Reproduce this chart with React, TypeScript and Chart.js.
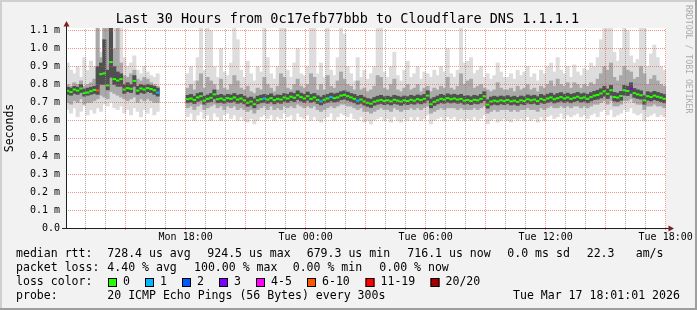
import { useEffect, useRef } from "react";
import { Chart, registerables } from "chart.js";

Chart.register(...registerables);

// ---- time axis (hours since Mon 00:00) ----
const START_HOUR = 12 + 1 / 60; // Mon 12:01
const END_HOUR = 42 + 1 / 60; // Tue 18:01
const SLOT_HOURS = 1 / 6; // 10-minute slots

const _ = null;

// median rtt per 10-minute slot (ms)
const medianRtt = [
  0.765, 0.758, 0.772, 0.766, 0.778, 0.752, 0.755, 0.763, 0.77, 0.767, 0.858, 0.862,
  0.795, 0.925, 0.83, 0.822, 0.83, 0.772, 0.78, 0.776, 0.82, 0.766, 0.778, 0.772,
  0.78, 0.775, 0.768, 0.755, _, _, _, _, _, _, _, _,
  0.718, 0.722, 0.714, 0.728, 0.735, 0.71, 0.72, 0.726, 0.745, 0.718, 0.722, 0.715,
  0.724, 0.72, 0.728, 0.716, 0.722, 0.712, 0.698, 0.705, 0.69, 0.712, 0.718, 0.722,
  0.716, 0.724, 0.713, 0.72, 0.716, 0.728, 0.722, 0.732, 0.726, 0.74, 0.73, 0.722,
  0.735, 0.72, 0.728, 0.714, 0.706, 0.715, 0.722, 0.73, 0.724, 0.728, 0.738, 0.742,
  0.735, 0.728, 0.72, 0.71, 0.716, 0.705, 0.698, 0.693, 0.704, 0.71, 0.714, 0.708,
  0.712, 0.706, 0.715, 0.71, 0.705, 0.712, 0.708, 0.715, 0.71, 0.718, 0.713, 0.72,
  0.738, 0.69, 0.703, 0.712, 0.72, 0.716, 0.724, 0.718, 0.722, 0.716, 0.72, 0.71,
  0.714, 0.708, 0.715, 0.712, 0.72, 0.735, 0.688, 0.705, 0.71, 0.706, 0.712, 0.708,
  0.714, 0.706, 0.71, 0.703, 0.712, 0.708, 0.718, 0.712, 0.716, 0.708, 0.72, 0.714,
  0.722, 0.728, 0.718, 0.724, 0.73, 0.722, 0.728, 0.72, 0.726, 0.732, 0.724, 0.728,
  0.72, 0.73, 0.738, 0.742, 0.75, 0.762, 0.748, 0.768, 0.73, 0.727, 0.736, 0.768,
  0.764, 0.778, 0.752, 0.745, 0.74, 0.712, 0.735, 0.73, 0.738, 0.732, 0.727, 0.72,
];

// smoke: outermost ping range (min / max)
const smokeMax = [
  0.92, 0.88, 0.86, 0.9, 0.84, 0.95, 0.88, 0.93, 0.9, 1.2, 0.98, 1.2,
  1.2, 1.2, 1.2, 1.2, 1.2, 0.95, 0.9, 0.92, 0.96, 0.88, 0.86, 0.9,
  0.87, 0.85, 0.84, 0.86, _, _, _, _, _, _, _, _,
  0.86, 0.9, 0.82, 0.95, 1.2, 0.88, 1.12, 1.1, 0.9, 0.84, 1.0, 0.87,
  0.85, 0.92, 1.2, 1.05, 0.88, 0.84, 0.93, 0.86, 0.82, 0.9, 0.87, 1.2,
  0.95, 0.86, 0.83, 0.9, 1.2, 1.15, 0.88, 0.84, 0.92, 1.0, 0.86, 0.85,
  0.9, 1.2, 1.12, 0.86, 0.92, 0.84, 1.15, 0.88, 0.85, 0.95, 1.2, 1.08,
  0.9, 0.86, 0.82, 0.95, 0.84, 0.88, 0.83, 0.86, 0.9, 1.2, 1.2, 0.87,
  0.84, 0.9, 0.98, 0.85, 0.82, 0.88, 0.93, 0.84, 0.86, 0.9, 0.83, 0.87,
  0.86, 0.84, 0.88, 0.85, 0.9, 0.87, 1.0, 0.86, 0.84, 0.88, 1.2, 0.92,
  0.93, 0.95, 0.86, 0.88, 0.9, 0.84, 0.86, 0.83, 0.85, 0.92, 0.87, 0.84,
  0.84, 0.86, 0.83, 0.88, 0.85, 0.87, 0.9, 0.84, 0.86, 0.82, 0.88, 0.86,
  0.9, 0.92, 0.87, 0.95, 0.88, 0.86, 0.9, 0.84, 0.91, 0.87, 0.85, 0.89,
  0.88, 0.92, 0.9, 0.95, 1.05, 1.2, 1.2, 1.2, 0.98, 0.93, 1.0, 1.2,
  1.1, 0.96, 0.92, 0.94, 1.2, 1.15, 0.9, 0.97, 1.02, 0.95, 0.9, 0.88,
];
const smokeMin = [
  0.66, 0.64, 0.67, 0.62, 0.65, 0.68, 0.63, 0.66, 0.64, 0.67, 0.65, 0.69,
  0.68, 0.7, 0.67, 0.66, 0.68, 0.64, 0.66, 0.63, 0.67, 0.65, 0.62, 0.66,
  0.64, 0.67, 0.63, 0.65, _, _, _, _, _, _, _, _,
  0.62, 0.64, 0.6, 0.63, 0.65, 0.61, 0.63, 0.6, 0.64, 0.62, 0.6, 0.63,
  0.64, 0.61, 0.63, 0.6, 0.62, 0.6, 0.59, 0.61, 0.58, 0.6, 0.62, 0.63,
  0.61, 0.63, 0.6, 0.62, 0.61, 0.64, 0.62, 0.63, 0.6, 0.64, 0.62, 0.61,
  0.63, 0.6, 0.62, 0.6, 0.59, 0.61, 0.62, 0.64, 0.6, 0.62, 0.64, 0.63,
  0.62, 0.64, 0.61, 0.6, 0.62, 0.59, 0.6, 0.58, 0.6, 0.61, 0.62, 0.6,
  0.61, 0.59, 0.62, 0.6, 0.59, 0.61, 0.6, 0.62, 0.6, 0.62, 0.6, 0.61,
  0.63, 0.58, 0.6, 0.61, 0.62, 0.6, 0.62, 0.61, 0.62, 0.6, 0.61, 0.6,
  0.61, 0.6, 0.62, 0.6, 0.61, 0.63, 0.58, 0.6, 0.61, 0.59, 0.6, 0.61,
  0.6, 0.59, 0.61, 0.6, 0.61, 0.6, 0.62, 0.6, 0.61, 0.59, 0.62, 0.6,
  0.62, 0.63, 0.61, 0.62, 0.64, 0.61, 0.63, 0.62, 0.63, 0.64, 0.62, 0.63,
  0.61, 0.63, 0.64, 0.62, 0.65, 0.66, 0.63, 0.66, 0.62, 0.63, 0.64, 0.66,
  0.65, 0.67, 0.64, 0.63, 0.64, 0.6, 0.62, 0.63, 0.64, 0.62, 0.63, 0.62,
];

// smoke: middle ping range
const midHi = [
  0.8, 0.79, 0.81, 0.8, 0.82, 0.79, 0.8, 0.81, 0.83, 1.2, 0.95, 1.2,
  1.2, 1.2, 1.0, 1.2, 0.92, 0.85, 0.84, 0.86, 0.88, 0.83, 0.82, 0.84,
  0.83, 0.81, 0.8, 0.79, _, _, _, _, _, _, _, _,
  0.78, 0.8, 0.77, 0.82, 0.86, 0.78, 0.84, 0.82, 0.8, 0.77, 0.83, 0.78,
  0.77, 0.8, 0.85, 0.82, 0.78, 0.77, 0.79, 0.76, 0.75, 0.78, 0.77, 0.84,
  0.8, 0.78, 0.76, 0.79, 0.86, 0.84, 0.78, 0.77, 0.8, 0.83, 0.79, 0.78,
  0.8, 0.86, 0.84, 0.77, 0.8, 0.77, 0.85, 0.79, 0.78, 0.82, 0.87, 0.83,
  0.8, 0.79, 0.77, 0.82, 0.77, 0.78, 0.76, 0.77, 0.79, 0.85, 0.84, 0.78,
  0.77, 0.8, 0.83, 0.77, 0.76, 0.78, 0.8, 0.77, 0.78, 0.8, 0.76, 0.78,
  0.79, 0.76, 0.78, 0.77, 0.79, 0.78, 0.84, 0.78, 0.77, 0.79, 0.86, 0.8,
  0.82, 0.83, 0.78, 0.79, 0.8, 0.78, 0.77, 0.76, 0.77, 0.81, 0.78, 0.77,
  0.77, 0.78, 0.76, 0.79, 0.77, 0.78, 0.8, 0.77, 0.78, 0.76, 0.79, 0.78,
  0.8, 0.82, 0.79, 0.83, 0.8, 0.79, 0.81, 0.78, 0.81, 0.8, 0.78, 0.8,
  0.79, 0.81, 0.8, 0.83, 0.86, 0.9, 0.88, 0.92, 0.84, 0.82, 0.85, 0.9,
  0.88, 0.87, 0.83, 0.84, 0.9, 0.86, 0.8, 0.83, 0.85, 0.82, 0.8, 0.79,
];
const midLo = [
  0.7, 0.69, 0.71, 0.7, 0.72, 0.69, 0.7, 0.7, 0.71, 0.72, 0.74, 0.73,
  0.72, 0.76, 0.75, 0.74, 0.73, 0.72, 0.71, 0.72, 0.73, 0.7, 0.72, 0.71,
  0.72, 0.71, 0.7, 0.7, _, _, _, _, _, _, _, _,
  0.67, 0.68, 0.66, 0.68, 0.69, 0.66, 0.67, 0.68, 0.69, 0.67, 0.68, 0.66,
  0.68, 0.67, 0.68, 0.66, 0.67, 0.66, 0.65, 0.66, 0.64, 0.66, 0.67, 0.68,
  0.66, 0.68, 0.66, 0.67, 0.66, 0.68, 0.67, 0.68, 0.67, 0.69, 0.68, 0.67,
  0.68, 0.67, 0.68, 0.66, 0.65, 0.66, 0.67, 0.68, 0.67, 0.68, 0.69, 0.69,
  0.68, 0.68, 0.67, 0.66, 0.67, 0.65, 0.65, 0.64, 0.65, 0.66, 0.67, 0.66,
  0.66, 0.65, 0.67, 0.66, 0.65, 0.66, 0.66, 0.67, 0.66, 0.67, 0.66, 0.67,
  0.68, 0.64, 0.65, 0.66, 0.67, 0.66, 0.67, 0.67, 0.67, 0.66, 0.67, 0.66,
  0.66, 0.66, 0.67, 0.66, 0.67, 0.68, 0.64, 0.65, 0.66, 0.65, 0.66, 0.66,
  0.66, 0.65, 0.66, 0.65, 0.66, 0.66, 0.67, 0.66, 0.66, 0.65, 0.67, 0.66,
  0.67, 0.68, 0.67, 0.67, 0.68, 0.67, 0.68, 0.67, 0.68, 0.68, 0.67, 0.68,
  0.67, 0.68, 0.69, 0.69, 0.7, 0.71, 0.69, 0.71, 0.68, 0.68, 0.69, 0.71,
  0.71, 0.72, 0.7, 0.69, 0.69, 0.66, 0.68, 0.68, 0.69, 0.68, 0.68, 0.67,
];

// smoke: innermost (dark) ping range around the median
const coreHi = [
  0.785, 0.78, 0.79, 0.785, 0.8, 0.775, 0.78, 0.785, 0.79, 0.9, 0.92, 1.05,
  0.88, 1.2, 0.9, 0.87, 0.86, 0.8, 0.81, 0.8, 0.85, 0.79, 0.8, 0.795,
  0.8, 0.795, 0.79, 0.78, _, _, _, _, _, _, _, _,
  0.74, 0.745, 0.735, 0.75, 0.755, 0.735, 0.742, 0.75, 0.77, 0.74, 0.745, 0.738,
  0.745, 0.742, 0.75, 0.74, 0.745, 0.735, 0.725, 0.73, 0.72, 0.735, 0.74, 0.745,
  0.74, 0.748, 0.736, 0.742, 0.74, 0.75, 0.745, 0.755, 0.75, 0.765, 0.752, 0.745,
  0.758, 0.745, 0.75, 0.738, 0.73, 0.74, 0.745, 0.752, 0.748, 0.752, 0.76, 0.765,
  0.758, 0.75, 0.745, 0.735, 0.74, 0.73, 0.722, 0.718, 0.728, 0.735, 0.74, 0.732,
  0.735, 0.73, 0.74, 0.735, 0.73, 0.736, 0.732, 0.74, 0.735, 0.742, 0.738, 0.745,
  0.765, 0.72, 0.728, 0.736, 0.745, 0.74, 0.748, 0.742, 0.746, 0.74, 0.745, 0.735,
  0.738, 0.732, 0.74, 0.736, 0.745, 0.76, 0.715, 0.73, 0.735, 0.73, 0.736, 0.732,
  0.738, 0.73, 0.735, 0.728, 0.736, 0.732, 0.742, 0.736, 0.74, 0.732, 0.745, 0.738,
  0.746, 0.752, 0.742, 0.75, 0.755, 0.746, 0.752, 0.745, 0.75, 0.756, 0.748, 0.752,
  0.745, 0.755, 0.762, 0.768, 0.776, 0.79, 0.775, 0.795, 0.756, 0.752, 0.762, 0.795,
  0.79, 0.81, 0.778, 0.77, 0.765, 0.738, 0.76, 0.755, 0.762, 0.756, 0.75, 0.744,
];
const coreLo = [
  0.745, 0.74, 0.75, 0.745, 0.755, 0.735, 0.74, 0.745, 0.75, 0.745, 0.8, 0.8,
  0.77, 0.84, 0.8, 0.79, 0.79, 0.75, 0.76, 0.755, 0.79, 0.745, 0.755, 0.75,
  0.76, 0.755, 0.745, 0.735, _, _, _, _, _, _, _, _,
  0.698, 0.702, 0.694, 0.706, 0.712, 0.69, 0.7, 0.705, 0.72, 0.698, 0.7, 0.695,
  0.703, 0.7, 0.706, 0.695, 0.7, 0.692, 0.678, 0.685, 0.67, 0.692, 0.698, 0.7,
  0.695, 0.703, 0.692, 0.7, 0.695, 0.706, 0.7, 0.71, 0.705, 0.716, 0.708, 0.7,
  0.712, 0.7, 0.706, 0.694, 0.686, 0.695, 0.7, 0.708, 0.702, 0.706, 0.715, 0.718,
  0.712, 0.706, 0.698, 0.69, 0.695, 0.685, 0.678, 0.672, 0.684, 0.69, 0.694, 0.688,
  0.692, 0.686, 0.694, 0.69, 0.684, 0.692, 0.688, 0.694, 0.69, 0.697, 0.692, 0.698,
  0.712, 0.67, 0.683, 0.692, 0.698, 0.695, 0.702, 0.697, 0.7, 0.695, 0.698, 0.69,
  0.694, 0.688, 0.695, 0.692, 0.698, 0.71, 0.668, 0.685, 0.69, 0.686, 0.692, 0.688,
  0.694, 0.686, 0.69, 0.683, 0.692, 0.688, 0.697, 0.692, 0.695, 0.688, 0.698, 0.694,
  0.7, 0.706, 0.697, 0.702, 0.708, 0.7, 0.706, 0.698, 0.705, 0.71, 0.702, 0.706,
  0.698, 0.708, 0.715, 0.718, 0.725, 0.735, 0.722, 0.74, 0.708, 0.705, 0.712, 0.74,
  0.738, 0.75, 0.728, 0.722, 0.718, 0.69, 0.712, 0.708, 0.715, 0.71, 0.705, 0.698,
];

// [slot index, lost pings out of 20]
const lossEvents: [number, number][] = [
  [9, 7], [27, 1], [59, 1], [76, 1], [79, 1], [87, 1], [169, 3],
];

const lossClasses = [
  { label: "0", max: 0, color: "#26ff00" },
  { label: "1", max: 1, color: "#00b8ff" },
  { label: "2", max: 2, color: "#0059ff" },
  { label: "3", max: 3, color: "#7e00ff" },
  { label: "4-5", max: 5, color: "#ff00ff" },
  { label: "6-10", max: 10, color: "#ff5500" },
  { label: "11-19", max: 19, color: "#ff0000" },
  { label: "20/20", max: 20, color: "#a00000" },
];

const yTicks = [0, 0.1, 0.2, 0.3, 0.4, 0.5, 0.6, 0.7, 0.8, 0.9, 1.0, 1.1];
const yTickLabels = ["0.0", "0.1 m", "0.2 m", "0.3 m", "0.4 m", "0.5 m", "0.6 m", "0.7 m", "0.8 m", "0.9 m", "1.0 m", "1.1 m"];
const xTickHours = [13, 14, 15, 16, 17, 18, 19, 20, 21, 22, 23, 24, 25, 26, 27, 28, 29, 30, 31, 32, 33, 34, 35, 36, 37, 38, 39, 40, 41, 42];
const xTickLabels: Record<number, string> = {
  18: "Mon 18:00",
  24: "Tue 00:00",
  30: "Tue 06:00",
  36: "Tue 12:00",
  42: "Tue 18:00",
};

const TITLE = "Last 30 Hours from 0c17efb77bbb to Cloudflare DNS 1.1.1.1";
const legendLines: { y: number; parts: [number, string][] }[] = [
  {
    y: 254,
    parts: [
      [16, "median rtt:"],
      [107.3, "728.4 us avg"],
      [207.3, "924.5 us max"],
      [306.7, "679.3 us min"],
      [407.3, "716.1 us now"],
      [507.3, "0.0 ms sd"],
      [586.7, "22.3"],
      [635.7, "am/s"],
    ],
  },
  {
    y: 268,
    parts: [
      [16, "packet loss:"],
      [107.3, "4.40 % avg"],
      [194, "100.00 % max"],
      [292.7, "0.00 % min"],
      [379.3, "0.00 % now"],
    ],
  },
  { y: 282, parts: [[16, "loss color:"]] },
  {
    y: 296,
    parts: [
      [16, "probe:"],
      [107.3, "20 ICMP Echo Pings (56 Bytes) every 300s"],
      [513, "Tue Mar 17 18:01:01 2026"],
    ],
  },
];
const lossBoxX = [108, 145, 182, 219, 256, 307, 365.5, 430.5];

const MONO = '"DejaVu Sans Mono", monospace';

// dotted grid colours: a checkerboard pattern so every grid line is 1-on / 1-off
function dotPattern(rgba: string) {
  const c = document.createElement("canvas");
  c.width = 2;
  c.height = 2;
  const g = c.getContext("2d")!;
  g.fillStyle = rgba;
  g.fillRect(0, 0, 1, 1);
  g.fillRect(1, 1, 1, 1);
  return g.createPattern(c, "repeat")!;
}

function slotHour(i: number) {
  return START_HOUR + (i + 0.5) * SLOT_HOURS;
}

function band(lo: (number | null)[], hi: (number | null)[]) {
  const out: { x: number; y: [number, number] }[] = [];
  lo.forEach((l, i) => {
    const h = hi[i];
    if (l != null && h != null) out.push({ x: slotHour(i), y: [l, h] });
  });
  return out;
}

function lossColor(n: number) {
  for (const c of lossClasses) if (n <= c.max) return c.color;
  return lossClasses[lossClasses.length - 1].color;
}

const decorPlugin = {
  id: "rrdDecor",
  beforeDraw(chart: any) {
    const { ctx, width, height, chartArea: a } = chart;
    ctx.save();
    ctx.fillStyle = "#f2f2f2";
    ctx.fillRect(0, 0, width, height);
    ctx.fillStyle = "#cfcfcf";
    ctx.fillRect(0, 0, width, 2);
    ctx.fillRect(0, 0, 2, height);
    ctx.fillStyle = "#9e9e9e";
    ctx.fillRect(0, height - 2, width, 2);
    ctx.fillRect(width - 2, 0, 2, height);
    ctx.fillStyle = "#ffffff";
    ctx.fillRect(a.left, a.top, a.right - a.left, a.bottom - a.top);
    ctx.restore();
  },
  afterDraw(chart: any) {
    const { ctx, chartArea: a, scales } = chart;
    const y0 = Math.round(scales.y.getPixelForValue(0)) + 0.5;
    const x0 = Math.round(a.left) + 0.5;
    ctx.save();
    // axes
    ctx.strokeStyle = "#1f1f1f";
    ctx.lineWidth = 1;
    ctx.beginPath();
    ctx.moveTo(a.left - 4, y0);
    ctx.lineTo(a.right + 4, y0);
    ctx.moveTo(x0, y0);
    ctx.lineTo(x0, a.top - 3);
    ctx.stroke();
    // arrows
    ctx.fillStyle = "#7f1f1f";
    ctx.beginPath();
    ctx.moveTo(x0, a.top - 7);
    ctx.lineTo(x0 - 3, a.top - 1.5);
    ctx.lineTo(x0 + 3, a.top - 1.5);
    ctx.closePath();
    ctx.fill();
    ctx.beginPath();
    ctx.moveTo(a.right + 8, y0);
    ctx.lineTo(a.right + 2.5, y0 - 3);
    ctx.lineTo(a.right + 2.5, y0 + 3);
    ctx.closePath();
    ctx.fill();

    // title
    ctx.fillStyle = "#000";
    ctx.textBaseline = "middle";
    ctx.textAlign = "center";
    ctx.font = `13.5px ${MONO}`;
    ctx.fillText(TITLE, 347.5, 19);

    // vertical axis label
    ctx.save();
    ctx.translate(10.5, (a.top + a.bottom) / 2);
    ctx.rotate(-Math.PI / 2);
    ctx.font = `11.5px ${MONO}`;
    ctx.fillText("Seconds", 0, 0);
    ctx.restore();

    // watermark
    ctx.save();
    ctx.translate(688, 5);
    ctx.rotate(Math.PI / 2);
    ctx.textAlign = "left";
    ctx.fillStyle = "#ababab";
    ctx.font = `8.2px ${MONO}`;
    ctx.fillText("RRDTOOL / TOBI OETIKER", 0, 0);
    ctx.restore();

    // legend
    ctx.textAlign = "left";
    ctx.font = `11.55px ${MONO}`;
    for (const line of legendLines) {
      for (const [x, t] of line.parts) ctx.fillText(t, x, line.y);
    }
    lossClasses.forEach((c, i) => {
      const bx = lossBoxX[i];
      ctx.fillStyle = c.color;
      ctx.fillRect(bx, 278, 9, 9);
      ctx.strokeStyle = "#000";
      ctx.strokeRect(bx + 0.5, 278.5, 8, 8);
      ctx.fillStyle = "#000";
      ctx.fillText(c.label, bx + 15, 282);
    });
    ctx.restore();
  },
};

export default function App() {
  const ref = useRef<HTMLCanvasElement>(null);

  useEffect(() => {
    document.body.style.margin = "0";
    const gridMinor = dotPattern("rgba(143,143,143,0.75)");
    const gridMajor = dotPattern("rgba(222,79,79,0.6)");
    const lossBySlot: Record<number, number> = {};
    lossEvents.forEach(([i, n]) => (lossBySlot[i] = n));
    const medianPts: { x: number; y: number; loss: number }[] = [];
    medianRtt.forEach((v, i) => {
      if (v != null) medianPts.push({ x: slotHour(i), y: v, loss: lossBySlot[i] ?? 0 });
    });

    const barCommon = {
      type: "bar" as const,
      grouped: false,
      barPercentage: 1,
      categoryPercentage: 1,
      borderWidth: 0,
    };

    const chart = new Chart(ref.current!, {
      type: "bar",
      data: {
        datasets: [
          {
            type: "line",
            data: medianPts as any,
            showLine: false,
            pointStyle: "line",
            pointRadius: 1.75,
            pointBorderWidth: 2,
            pointBorderColor: (c: any) => lossColor(c.raw ? c.raw.loss : 0),
            pointBackgroundColor: (c: any) => lossColor(c.raw ? c.raw.loss : 0),
            order: 0,
          } as any,
          { ...barCommon, data: band(coreLo, coreHi) as any, backgroundColor: "#505050", order: 1 },
          { ...barCommon, data: band(midLo, midHi) as any, backgroundColor: "#a9a9a9", order: 2 },
          { ...barCommon, data: band(smokeMin, smokeMax) as any, backgroundColor: "#dddddd", order: 3 },
        ],
      },
      options: {
        responsive: false,
        animation: false,
        events: [],
        layout: { padding: { left: 0, right: 31, top: 28, bottom: 0 } },
        plugins: { legend: { display: false }, tooltip: { enabled: false } },
        scales: {
          x: {
            type: "linear",
            offset: false,
            min: START_HOUR,
            max: END_HOUR,
            afterBuildTicks: (s: any) => {
              s.ticks = xTickHours.map((v) => ({ value: v }));
            },
            afterFit: (s: any) => {
              s.height = 82;
            },
            ticks: {
              autoSkip: false,
              maxRotation: 0,
              padding: 1,
              color: "#000",
              font: { family: MONO, size: 10 },
              callback: (v: any) => xTickLabels[Math.round(Number(v))] ?? "",
            },
            grid: {
              z: 1,
              offset: false,
              lineWidth: 1,
              drawTicks: true,
              tickLength: 2,
              color: (c: any) => (c.tick && Math.round(c.tick.value) % 3 === 0 ? gridMajor : gridMinor),
              tickColor: (c: any) => (c.tick && Math.round(c.tick.value) % 3 === 0 ? gridMajor : gridMinor),
            },
            border: { display: false },
          },
          y: {
            type: "linear",
            min: 0,
            max: 1.115,
            afterBuildTicks: (s: any) => {
              s.ticks = yTicks.map((v) => ({ value: v }));
            },
            afterFit: (s: any) => {
              s.width = 66;
            },
            ticks: {
              autoSkip: false,
              padding: 6,
              color: "#000",
              font: { family: MONO, size: 10 },
              callback: (_v: any, i: number) => yTickLabels[i],
            },
            grid: { z: 1, lineWidth: 1, drawTicks: false, color: gridMajor },
            border: { display: false },
          },
        },
      },
      plugins: [decorPlugin],
    });
    return () => chart.destroy();
  }, []);

  return (
    <div style={{ width: 697, height: 310 }}>
      <canvas ref={ref} width={697} height={310} style={{ display: "block" }} />
    </div>
  );
}
